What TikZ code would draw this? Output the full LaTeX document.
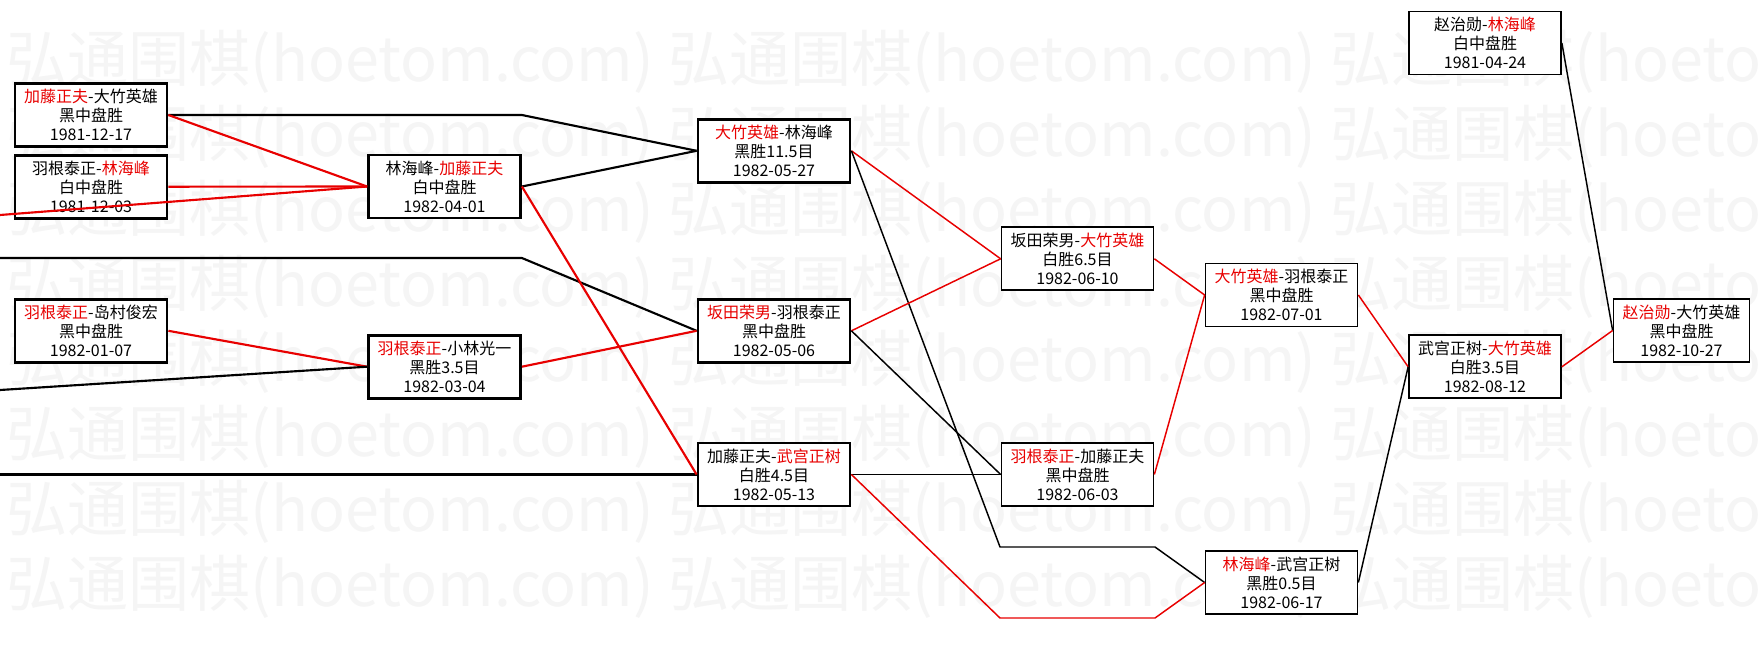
\documentclass[tikz,border=0pt]{standalone}
\usepackage{fontspec}
\newfontfamily\cjk{Noto Sans CJK SC}
\definecolor{winred}{RGB}{232,0,0}
\newcommand{\redname}[1]{\textcolor{winred}{#1}}

\begin{document}
\begin{tikzpicture}
[x=0.75pt,y=-0.75pt,
game/.style={rectangle,draw=black,fill=white,line width=1.3pt,inner sep=0pt,
  minimum width=114pt,minimum height=47.25pt,align=center,
  font=\cjk\fontsize{12pt}{14.25pt}\selectfont},
early game/.style={game,line width=2.1pt},
final game/.style={game,minimum width=102pt},
loser/.style={black,line width=1.1pt,line join=bevel},
winner/.style={winred,line width=1.1pt,line join=bevel},
heavy/.style={line width=1.6pt},
watermark/.style={anchor=west,inner sep=0pt,text=black!4,
  font=\cjk\fontsize{45.8pt}{46pt}\selectfont}]
\useasboundingbox[fill=white] (0,0) rectangle (1761,661);
\begin{scope}
\clip (0,0) rectangle (1761,661);
\foreach \row in {0,...,7}
  \foreach \col in {0,1,2}
    \node[watermark] at (6+662*\col,62+75*\row) {弘通围棋(hoetom.com)};
\end{scope}

\node[early game] (kato ohtake) at (91,115) {\redname{加藤正夫}-大竹英雄\\黑中盘胜\\1981-12-17};
\node[early game] (hane rin) at (91,186.7) {羽根泰正-\redname{林海峰}\\白中盘胜\\1981-12-03};
\node[early game] (hane shimamura) at (91,330.8) {\redname{羽根泰正}-岛村俊宏\\黑中盘胜\\1982-01-07};
\node[early game] (rin kato) at (444.5,186.5) {林海峰-\redname{加藤正夫}\\白中盘胜\\1982-04-01};
\node[early game] (hane kobayashi) at (444.5,366.7) {\redname{羽根泰正}-小林光一\\黑胜3.5目\\1982-03-04};
\node[early game] (ohtake rin) at (774,150.8) {\redname{大竹英雄}-林海峰\\黑胜11.5目\\1982-05-27};
\node[early game] (sakata hane) at (774,330.8) {\redname{坂田荣男}-羽根泰正\\黑中盘胜\\1982-05-06};
\node[early game] (kato takemiya) at (774,474.5) {加藤正夫-\redname{武宫正树}\\白胜4.5目\\1982-05-13};
\node[game] (sakata ohtake) at (1077.5,258.8) {坂田荣男-\redname{大竹英雄}\\白胜6.5目\\1982-06-10};
\node[game] (hane kato) at (1077.5,474.5) {\redname{羽根泰正}-加藤正夫\\黑中盘胜\\1982-06-03};
\node[game] (ohtake hane) at (1281.5,295) {\redname{大竹英雄}-羽根泰正\\黑中盘胜\\1982-07-01};
\node[game] (rin takemiya) at (1281.5,582.5) {\redname{林海峰}-武宫正树\\黑胜0.5目\\1982-06-17};
\node[game] (cho rin) at (1485,43) {赵治勋-\redname{林海峰}\\白中盘胜\\1981-04-24};
\node[game] (takemiya ohtake) at (1485,366.8) {武宫正树-\redname{大竹英雄}\\白胜3.5目\\1982-08-12};
\node[final game] (cho ohtake) at (1681.5,330.5) {\redname{赵治勋}-大竹英雄\\黑中盘胜\\1982-10-27};

\coordinate (cut a) at (0,215);
\coordinate (cut b) at (0,258);
\coordinate (cut c) at (0,390);
\coordinate (cut d) at (0,474.5);
\coordinate (rin fork in) at (1000,547);
\coordinate (rin fork out) at (1155,547);
\coordinate (takemiya fork in) at (1000,618);
\coordinate (takemiya fork out) at (1155,618);

\draw[loser,heavy] (kato ohtake.east) -- (kato ohtake.east -| rin kato.east) -- (ohtake rin.west);
\draw[winner,heavy] (kato ohtake.east) -- (rin kato.west);
\draw[winner,heavy] (hane rin.east) -- (rin kato.west);
\draw[winner,heavy] (cut a) -- (rin kato.west);
\draw[loser,heavy] (cut b) -- (cut b -| rin kato.east) -- (sakata hane.west);
\draw[winner,heavy] (hane shimamura.east) -- (hane kobayashi.west);
\draw[loser,heavy] (cut c) -- (hane kobayashi.west);
\draw[loser,heavy] (cut d) -- (kato takemiya.west);
\draw[loser,heavy] (rin kato.east) -- (ohtake rin.west);
\draw[winner,heavy] (rin kato.east) -- (kato takemiya.west);
\draw[winner,heavy] (hane kobayashi.east) -- (sakata hane.west);
\draw[winner] (ohtake rin.east) -- (sakata ohtake.west);
\draw[loser] (ohtake rin.east) -- (rin fork in) -- (rin fork out) -- (rin takemiya.west);
\draw[winner] (sakata hane.east) -- (sakata ohtake.west);
\draw[loser] (sakata hane.east) -- (hane kato.west);
\draw[loser] (kato takemiya.east) -- (hane kato.west);
\draw[winner] (kato takemiya.east) -- (takemiya fork in) -- (takemiya fork out) -- (rin takemiya.west);
\draw[winner] (sakata ohtake.east) -- (ohtake hane.west);
\draw[winner] (hane kato.east) -- (ohtake hane.west);
\draw[winner] (ohtake hane.east) -- (takemiya ohtake.west);
\draw[loser] (rin takemiya.east) -- (takemiya ohtake.west);
\draw[loser] (cho rin.east) -- (cho ohtake.west);
\draw[winner] (takemiya ohtake.east) -- (cho ohtake.west);
\end{tikzpicture}
\end{document}
